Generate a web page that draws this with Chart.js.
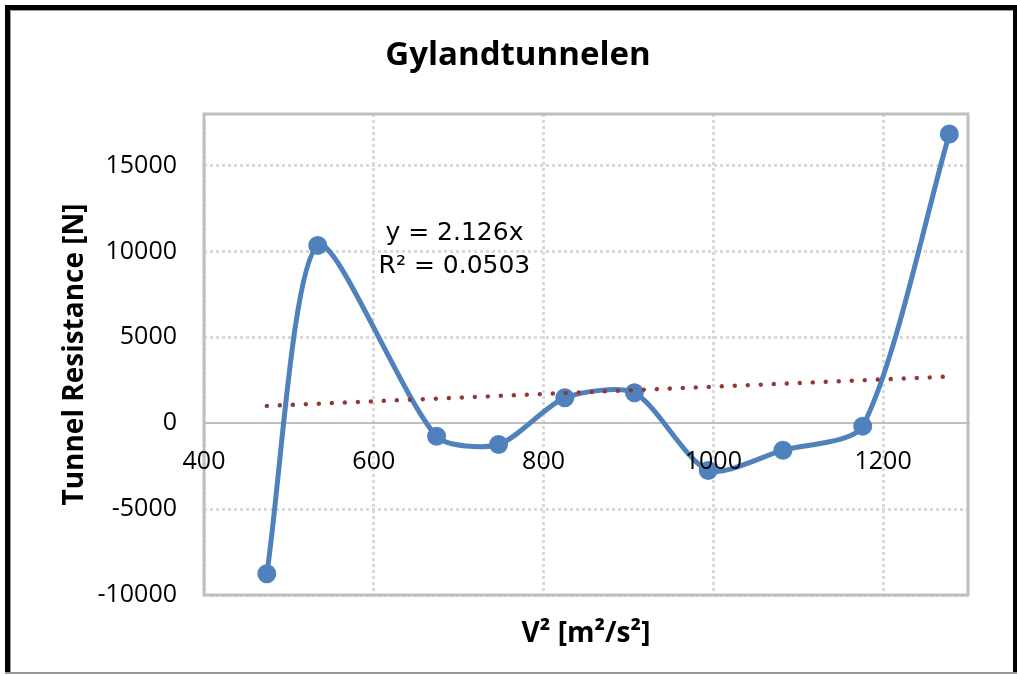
<!DOCTYPE html>
<html><head><meta charset="utf-8">
<script src="https://cdn.jsdelivr.net/npm/chart.js@4.4.1/dist/chart.umd.min.js"></script>
<style>html,body{margin:0;padding:0;background:#fff;overflow:hidden;}</style>
</head><body><canvas id="c" width="1017" height="675"></canvas>
<script>
const chartTitle = 'Gylandtunnelen';
const xAxisTitle = 'V² [m²/s²]';
const yAxisTitle = 'Tunnel Resistance [N]';
const vSquared = [474, 534, 674, 747, 825, 907, 994, 1082, 1176, 1278];
const resistance = [-8760, 10350, -760, -1240, 1480, 1770, -2750, -1570, -170, 16840];
const trendX = [474, 1278];
const trendY = [1008, 2717];
const trendLabel = ['y = 2.126x', 'R² = 0.0503'];
const trendLabelAnchor = [695, 10130];
const xTicks = [400, 600, 800, 1000, 1200];
const yTicks = [-10000, -5000, 0, 5000, 10000, 15000];
const xRange = [400, 1300];
const yRange = [-10000, 18000];

const outerBorder = {
  id: 'outerBorder',
  beforeDraw(chart) {
    const ctx = chart.ctx, W = chart.width, H = chart.height;
    ctx.save();
    ctx.fillStyle = '#fff'; ctx.fillRect(0, 0, W, H);
    ctx.fillStyle = '#000';
    ctx.fillRect(5, 5, 5, H - 7);
    ctx.fillRect(5, 5, W - 5, 5);
    ctx.fillRect(W - 4, 5, 4, H - 7);
    ctx.fillStyle = '#9a9a9a';
    ctx.fillRect(5, H - 3, W - 5, 2);
    ctx.fillRect(10, 10, 1, H - 13);
    ctx.fillRect(10, 10, W - 14, 1);
    ctx.restore();
  }
};
const plotFrame = {
  id: 'plotFrame',
  beforeDatasetsDraw(chart) {
    const {ctx, chartArea: a} = chart;
    ctx.save();
    ctx.strokeStyle = '#BFBFBF'; ctx.lineWidth = 3;
    ctx.strokeRect(a.left, a.top, a.right - a.left, a.bottom - a.top);
    ctx.restore();
  }
};
const trendText = {
  id: 'trendText',
  afterDatasetsDraw(chart) {
    const ctx = chart.ctx;
    const x = chart.scales.x.getPixelForValue(trendLabelAnchor[0]);
    const y = chart.scales.y.getPixelForValue(trendLabelAnchor[1]);
    ctx.save();
    ctx.fillStyle = '#000';
    ctx.font = '25px "DejaVu Sans"';
    ctx.textAlign = 'center'; ctx.textBaseline = 'middle';
    ctx.fillText(trendLabel[0], x, y - 16);
    ctx.fillText(trendLabel[1], x, y + 17);
    ctx.restore();
  }
};

new Chart(document.getElementById('c'), {
  type: 'line',
  data: {
    datasets: [{
      label: 'Tunnel Resistance',
      data: vSquared.map((v, i) => ({x: v, y: resistance[i]})),
      borderColor: '#4F81BD', backgroundColor: '#4F81BD',
      borderWidth: 5, pointRadius: 7, pointHoverRadius: 7,
      pointBackgroundColor: '#4F81BD', pointBorderColor: '#4F81BD',
      tension: 0.25, fill: false, order: 1
    }, {
      label: 'Trend',
      data: trendX.map((v, i) => ({x: v, y: trendY[i]})),
      borderColor: '#953735', borderWidth: 4.5, borderDash: [0.01, 13],
      borderCapStyle: 'round', pointRadius: 0, fill: false, tension: 0, order: 0
    }]
  },
  options: {
    responsive: false, animation: false, devicePixelRatio: 1,
    layout: {padding: {left: 68, right: 49, top: 10, bottom: 10}},
    plugins: {
      legend: {display: false}, tooltip: {enabled: false},
      title: {display: true, text: chartTitle, color: '#000',
        font: {family: '"Open Sans"', size: 33, weight: 'bold'},
        padding: {top: 26.2, bottom: 38.2}},
      subtitle: {display: true, text: xAxisTitle, position: 'bottom', fullSize: false, color: '#000',
        font: {family: '"Open Sans"', size: 28, weight: 'bold'},
        padding: {top: 22.2, bottom: 14.2}}
    },
    scales: {
      x: {
        type: 'linear', position: {y: 0}, min: xRange[0], max: xRange[1],
        afterBuildTicks: s => { s.ticks = xTicks.map(v => ({value: v})); },
        grid: {color: '#D9D9D9', lineWidth: 3, drawTicks: false},
        border: {display: true, color: '#BFBFBF', width: 2, dash: [3, 3]},
        ticks: {color: '#000', padding: 24, z: 1, maxRotation: 0,
          callback: v => String(v),
          font: {family: '"Open Sans"', size: 25}}
      },
      y: {
        type: 'linear', position: 'left', min: yRange[0], max: yRange[1],
        afterBuildTicks: s => { s.ticks = yTicks.map(v => ({value: v})); },
        afterFit: s => { s.width = 136; },
        grid: {color: c => (c.tick && c.tick.value === 0) ? 'rgba(0,0,0,0)' : '#D9D9D9', lineWidth: 3, drawTicks: false},
        border: {display: false, dash: [3, 3]},
        ticks: {color: '#000', padding: 27, callback: v => String(v),
          font: {family: '"Open Sans"', size: 25}},
        title: {display: true, text: yAxisTitle, color: '#000',
          font: {family: '"Open Sans"', size: 28, weight: 'bold'},
          padding: {top: -10, bottom: 0}}
      }
    }
  },
  plugins: [outerBorder, plotFrame, trendText]
});
</script>
</body></html>
